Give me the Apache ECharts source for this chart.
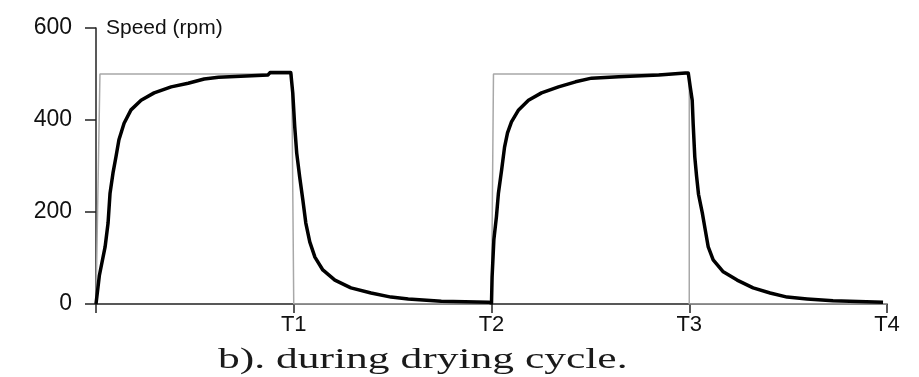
<!DOCTYPE html>
<html>
<head>
<meta charset="utf-8">
<script src="https://cdn.jsdelivr.net/npm/echarts@6/dist/echarts.min.js"></script>
<style>
html,body{margin:0;padding:0;background:#fff;}
#chart{width:919px;height:377px;}
</style>
</head>
<body>
<div id="chart"></div>
<script>
// x in units of T (0..4), y in rpm
var xTickLabels = ['', 'T1', 'T2', 'T3', 'T4'];
var yTicks = [0, 200, 400, 600];

var refT = [0, 0.02, 0.99, 1.0, 2.0, 2.01, 3.0, 3.0, 4.0];
var refV = [0, 500, 500, 0, 0, 500, 500, 0, 0];

var speedT = [0, 0.01, 0.017, 0.046, 0.061, 0.071, 0.086, 0.101, 0.116,
  0.142, 0.177, 0.228, 0.294, 0.38, 0.466, 0.547, 0.62, 0.87, 0.88, 0.985,
  0.995, 1.005, 1.015, 1.03, 1.046, 1.061, 1.081, 1.107, 1.147, 1.208,
  1.289, 1.391, 1.492, 1.579, 1.746, 1.985, 2.0,
  2.003, 2.012, 2.025, 2.035, 2.051, 2.066, 2.081, 2.101, 2.137, 2.187,
  2.253, 2.339, 2.425, 2.506, 2.643, 2.846, 2.98, 2.995,
  3.005, 3.015, 3.02, 3.028, 3.037, 3.047, 3.066, 3.081, 3.096, 3.121,
  3.172, 3.242, 3.323, 3.409, 3.495, 3.596, 3.727, 3.98];
var speedV = [0, 0, 62, 124, 176, 241, 285, 320, 357,
  393, 422, 443, 459, 472, 480, 489, 493, 498, 503, 503,
  459, 385, 328, 276, 226, 176, 135, 102, 74, 52,
  35, 24, 15, 11, 6, 4, 2,
  59, 140, 190, 241, 291, 341, 372, 396, 422, 443,
  459, 472, 483, 491, 494, 498, 502, 502,
  472, 443, 390, 320, 278, 238, 198, 161, 124, 96,
  70, 52, 35, 24, 15, 11, 7, 4];

var yName = 'Speed (rpm)';
var caption = 'b). during drying cycle.';

function pairs(xs, ys) { return xs.map(function (x, i) { return [x, ys[i]]; }); }

var chart = echarts.init(document.getElementById('chart'), null, {renderer: 'canvas'});
var axisColor = '#222';
chart.setOption({
  animation: false,
  backgroundColor: '#fff',
  grid: {left: 96, right: 32, top: 28, bottom: 73, containLabel: false},
  xAxis: {
    type: 'value', min: 0, max: 4, interval: 1,
    axisLine: {show: true, onZero: false, lineStyle: {color: axisColor, width: 1.5}},
    axisTick: {show: true, length: 9, lineStyle: {color: axisColor, width: 1.5}},
    axisLabel: {
      formatter: function (v) { return xTickLabels[Math.round(v)] || ''; },
      fontSize: 22, color: '#111', fontFamily: 'Liberation Sans', margin: 10,
      showMinLabel: true, showMaxLabel: true
    },
    splitLine: {show: false}
  },
  yAxis: {
    type: 'value', min: yTicks[0], max: yTicks[yTicks.length - 1], interval: 200,
    name: yName, nameLocation: 'end', nameGap: 0,
    nameTextStyle: {fontSize: 21, color: '#111', fontFamily: 'Liberation Sans', align: 'left', verticalAlign: 'middle', padding: [0, 0, 0, 10]},
    axisLine: {show: true, lineStyle: {color: axisColor, width: 1.5}},
    axisTick: {show: true, length: 11, lineStyle: {color: axisColor, width: 1.5}},
    axisLabel: {fontSize: 23, color: '#111', fontFamily: 'Liberation Sans', margin: 24},
    splitLine: {show: false}
  },
  graphic: [{
    type: 'text', x: 218, y: 346, scaleX: 1.5, silent: true,
    style: {text: caption, font: '29px "Liberation Serif"', fill: '#1a1a1a', textVerticalAlign: 'top', textAlign: 'left'}
  }],
  series: [
    {
      type: 'line', data: pairs(refT, refV), symbol: 'none', z: 1,
      lineStyle: {color: '#a8a8a8', width: 1.5}
    },
    {
      type: 'line', data: pairs(speedT, speedV), symbol: 'none', z: 2,
      lineStyle: {color: '#000', width: 3.5, join: 'round'}
    }
  ]
});
</script>
</body>
</html>
